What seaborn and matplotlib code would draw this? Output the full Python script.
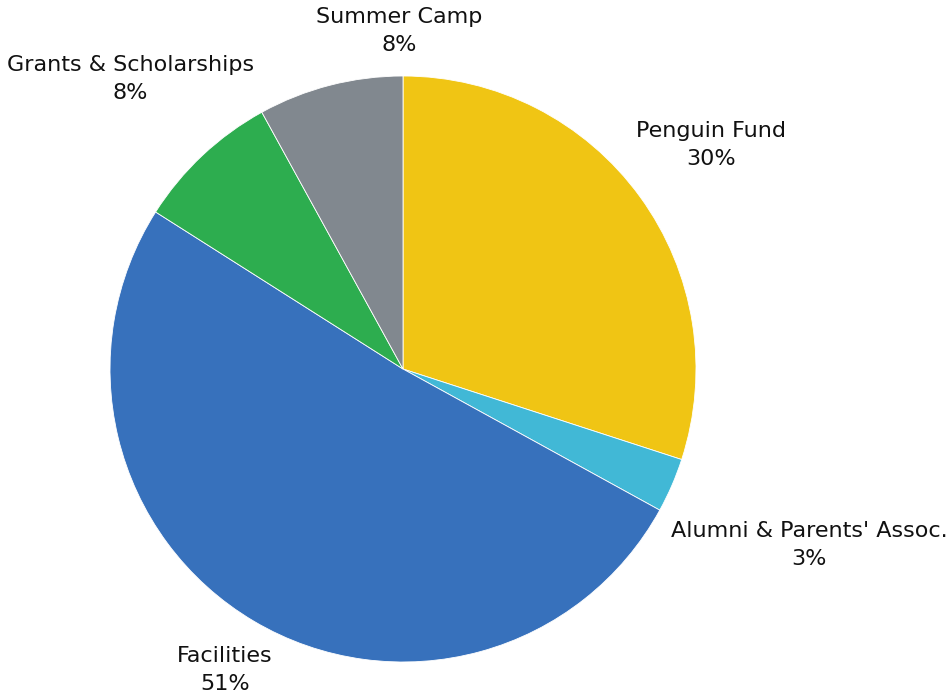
import matplotlib
matplotlib.use("Agg")
import matplotlib.pyplot as plt
import numpy as np
import seaborn as sns

# data
categories = ["Penguin Fund", "Alumni & Parents' Assoc.", "Facilities",
              "Grants & Scholarships", "Summer Camp"]
shares = [30, 3, 51, 8, 8]
colors = ["#F0C514", "#41B8D6", "#3771BC", "#2DAD4F", "#81888F"]

# label placement (radius multiples and alignment)
label_dist = [1.30, 1.51, 1.195, 1.36, 1.19]
label_ha = ["center", "center", "center", "center", "left"]

sns.set_theme(style="white")
plt.rcParams["font.family"] = ["DejaVu Sans"]

W, H = 951, 698
fig = plt.figure(figsize=(W / 100, H / 100), dpi=100)
ax = fig.add_axes([0, 0, 1, 1])
cx, cy, r = 403, H - 369, 293

wedges, _ = ax.pie(shares, colors=colors, startangle=90, counterclock=False,
                   radius=r, center=(cx, cy),
                   wedgeprops={"edgecolor": "white", "linewidth": 0.6})

total = sum(shares)
start = 90.0
for cat, val, d, ha in zip(categories, shares, label_dist, label_ha):
    span = 360.0 * val / total
    mid = np.deg2rad(start - span / 2)
    start -= span
    x = cx + d * r * np.cos(mid)
    y = cy + d * r * np.sin(mid)
    ax.text(x, y, f"{cat}\n{val}%", ha=ha, va="center", multialignment="center",
            fontsize=16, color="#111111", linespacing=1.5)

ax.set_xlim(0, W)
ax.set_ylim(0, H)
ax.set_aspect("equal")
ax.axis("off")

fig.savefig("out.png", dpi=100, facecolor="white")
